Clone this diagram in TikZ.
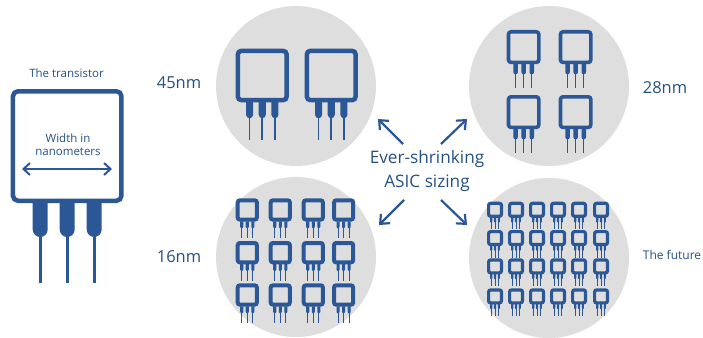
\documentclass[tikz,border=0pt]{standalone}
\usepackage{fontspec}
\setmainfont{Open Sans}
\usetikzlibrary{arrows.meta}
\definecolor{chipblue}{HTML}{2B5796}
\definecolor{labelblue}{HTML}{265082}
\definecolor{discgrey}{HTML}{DEDEDE}
\tikzset{
disc/.style={circle,fill=discgrey,minimum size=160pt,inner sep=0pt},
label/.style={text=labelblue,align=center,inner sep=0pt,font=\fontsize{#1}{#1}\selectfont},
shrink/.style={chipblue,line width=2.2pt,-{Straight Barb[length=7.5pt,width=13pt]}},
}
\newcommand{\chip}[4]{
\begin{scope}[shift={(#1,#2)},scale=#3]
\pgfmathsetmacro{\chipin}{#4/(2*#3)}
\foreach \legx in {29.5,56.5,83.5}{
\draw [chipblue,line width={(0.6+2*#3)*1pt}] (\legx,130) -- (\legx,194);
\fill [chipblue] (\legx-7.5,112) -- (\legx+7.5,112) -- (\legx+7.5,140.5) arc (0:180:7.5) -- cycle;
}
\draw [chipblue,line width=#4pt,rounded corners={(1.5+3.5*#3)*1pt}] (\chipin,\chipin) rectangle (113-\chipin,114-\chipin);
\end{scope}
}
\begin{document}
\begin{tikzpicture}[x=1pt,y=-1pt]
\useasboundingbox (0,0) rectangle (703,337);
\node [disc] (nm45) at (296,86) {};
\node [disc] (nm28) at (549,86) {};
\node [disc] (nm16) at (296,257) {};
\node [disc] (future) at (549,258) {};
\node [label=11.5] (title) at (66.5,73) {The transistor};
\node [label=11.5] (width) at (68,144.5) {Width in\\[1pt]nanometers};
\node [label=16.5] (l45) at (179,83) {45nm};
\node [label=16.5] (l28) at (665,88) {28nm};
\node [label=16.5] (l16) at (179,257) {16nm};
\node [label=12] (lfuture) at (672,255) {The future};
\node [label=17.2] (ever) at (427,159) {Ever-shrinking};
\node [label=17.2] (asic) at (427,183) {ASIC sizing};
\chip{10.7}{89}{1}{4.5}
\coordinate (wl) at (22,169);
\coordinate (wr) at (112,169);
\draw [chipblue,line width=2pt,{Straight Barb[length=6.5pt,width=12pt]}-{Straight Barb[length=6.5pt,width=12pt]}] (wl) -- (wr);
\foreach \x in {235.7,304.7}{\chip{\x}{48.7}{0.47}{4.5}}
\foreach \x in {506.7,558.7}{\foreach \y in {30,95}{\chip{\x}{\y}{0.3}{3.6}}}
\foreach \x in {235.7,268.7,301.7,332}{\foreach \y in {198.3,241,283.3}{\chip{\x}{\y}{0.205}{4}}}
\foreach \x in {487,508,529,550,571,593}{\foreach \y in {201.7,230,258.3,288.3}{\chip{\x}{\y}{0.142}{3.2}}}
\coordinate (nwa) at (403,144);
\coordinate (nwb) at (378,119);
\coordinate (nea) at (441,144);
\coordinate (neb) at (467,119);
\coordinate (swa) at (404,200);
\coordinate (swb) at (379,225);
\coordinate (sea) at (441,200);
\coordinate (seb) at (467,225);
\draw [shrink] (nwa) -- (nwb);
\draw [shrink] (nea) -- (neb);
\draw [shrink] (swa) -- (swb);
\draw [shrink] (sea) -- (seb);
\end{tikzpicture}
\end{document}
